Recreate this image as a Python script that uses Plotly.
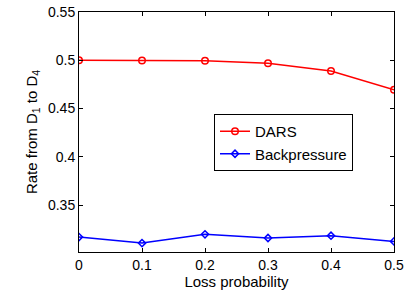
import plotly.graph_objects as go

loss_prob = [0, 0.1, 0.2, 0.3, 0.4, 0.5]
dars = [0.5, 0.4997, 0.4994, 0.4969, 0.4889, 0.4695]
backpressure = [0.317, 0.3107, 0.3198, 0.316, 0.3184, 0.3125]
x_ticks = [0, 0.1, 0.2, 0.3, 0.4, 0.5]
y_ticks = [0.35, 0.4, 0.45, 0.5, 0.55]

FONT = "Liberation Sans, Arial, Helvetica"

fig = go.Figure()
fig.add_trace(go.Scatter(x=loss_prob, y=dars, name="DARS", mode="lines+markers",
                         line=dict(color="#ff0000", width=1.5),
                         marker=dict(symbol="circle-open", size=6.5, color="#ff0000", line=dict(width=1.5))))
fig.add_trace(go.Scatter(x=loss_prob, y=backpressure, name="Backpressure", mode="lines+markers",
                         line=dict(color="#0000ff", width=1.5),
                         marker=dict(symbol="diamond-open", size=5.5, color="#0000ff", line=dict(width=1.5))))

axis_common = dict(showgrid=False, zeroline=False, showline=True, linecolor="black", linewidth=1,
                   mirror="ticks", ticks="inside", ticklen=4, tickcolor="black", automargin=False,
                   ticklabeloverflow="allow",
                   tickfont=dict(family=FONT, size=14, color="black"))
fig.update_xaxes(range=[0, 0.5], tickvals=x_ticks, ticktext=["0", "0.1", "0.2", "0.3", "0.4", "0.5"],
                 title=dict(text="Loss probability", font=dict(family=FONT, size=15, color="black"), standoff=0),
                 **axis_common)
fig.update_yaxes(range=[0.3015, 0.55], tickvals=y_ticks, ticktext=["0.35", "0.4", "0.45", "0.5", "0.55"],
                 title=dict(text="Rate from D<sub>1</sub> to D<sub>4</sub>", font=dict(family=FONT, size=15, color="black"), standoff=6),
                 **axis_common)
fig.update_layout(width=408, height=295, margin=dict(l=79, r=14, t=12, b=43),
                  paper_bgcolor="white", plot_bgcolor="white",
                  legend=dict(x=0.4286, y=0.575, xanchor="left", yanchor="top",
                              bgcolor="white", bordercolor="black", borderwidth=1,
                              font=dict(family=FONT, size=15, color="black"),
                              tracegroupgap=0),
                  showlegend=True)
fig.write_html("out.html", config={"displayModeBar": False},
               post_script="document.body.style.margin='0';document.body.style.overflow='hidden';")
